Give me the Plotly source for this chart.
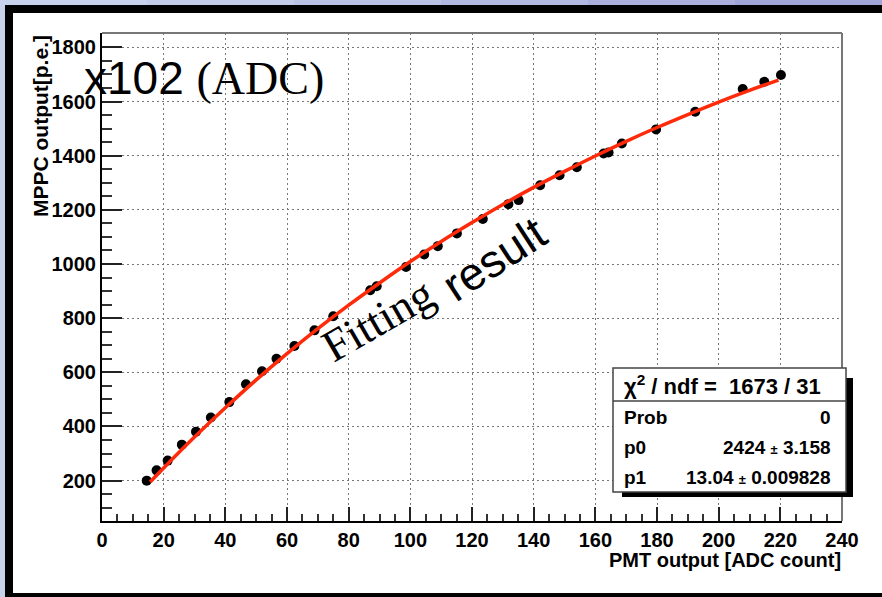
import plotly.graph_objects as go

# ---- data ----
pmt_adc = [14.5, 17.7, 21.3, 25.9, 30.5, 35.3, 41.3, 46.7, 51.9, 56.6, 62.4, 68.9,
           75.0, 87.0, 89.1, 98.6, 104.5, 108.9, 115.1, 123.5, 131.8, 135.1, 142.1,
           148.4, 154.0, 162.7, 164.3, 168.6, 179.7, 192.4, 207.8, 214.8, 220.2]
mppc_pe = [200, 238, 274, 333, 381, 433, 490, 556, 604, 650, 697, 755,
           807, 903, 918, 989, 1035, 1066, 1113, 1166, 1221, 1236, 1291,
           1328, 1357, 1408, 1412, 1445, 1497, 1562, 1646, 1673, 1698]

# fitted curve (red line)
fit_x = [15.6, 20, 30, 40, 50, 60, 70, 80, 90, 100, 110, 120, 130, 140, 150,
         160, 170, 180, 190, 200, 210, 219.4]
fit_y = [195, 247, 361, 469, 572, 669, 761, 848, 930, 1009, 1083, 1153, 1220,
         1283, 1342, 1399, 1453, 1504, 1552, 1598, 1641, 1679]

x_ticks = list(range(0, 241, 20))
y_ticks = list(range(200, 1801, 200))

stats_header = "χ<sup>2</sup> / ndf =  1673 / 31"
stats_rows = [("Prob", "0"),
              ("p0", "2424 <span style='font-size:13px'>±</span> 3.158"),
              ("p1", "13.04 <span style='font-size:13px'>±</span> 0.009828")]

# ---- layout geometry (pixels) ----
W, H = 882, 597
L, R, T, B = 102, 40, 33, 76
PW, PH = W - L - R, H - T - B


def PX(x):
    return (x - L) / PW


def PY(y):
    return (H - B - y) / PH


fig = go.Figure()
fig.add_trace(go.Scatter(x=pmt_adc, y=mppc_pe, mode="markers",
                         marker=dict(color="black", size=10), showlegend=False))
fig.add_trace(go.Scatter(x=fit_x, y=fit_y, mode="lines",
                         line=dict(color="#ff2a0a", width=3.5, shape="spline"),
                         showlegend=False))

shapes = []
# black frame and white panel
shapes.append(dict(type="rect", xref="paper", yref="paper", layer="below",
                   x0=PX(5), x1=PX(W + 5), y0=PY(5), y1=PY(H + 5),
                   fillcolor="black", line=dict(width=0)))
shapes.append(dict(type="rect", xref="paper", yref="paper", layer="below",
                   x0=PX(13), x1=PX(W + 5), y0=PY(13), y1=PY(593),
                   fillcolor="white", line=dict(width=0)))
# top lavender strip gradient
top_cols = ["#c9d2ec", "#c2cbe9", "#bac2e5", "#b1b8e1", "#a9aedc", "#a0a5d8"]
seg = W / len(top_cols)
for i, c in enumerate(top_cols):
    shapes.append(dict(type="rect", xref="paper", yref="paper", layer="below",
                       x0=PX(i * seg), x1=PX((i + 1) * seg + 1), y0=PY(-2), y1=PY(5),
                       fillcolor=c, line=dict(width=0)))
# top / right frame of plot box
shapes.append(dict(type="line", xref="paper", yref="paper", x0=0, x1=1, y0=1, y1=1,
                   line=dict(color="#777", width=2)))
shapes.append(dict(type="line", xref="paper", yref="paper", x0=1, x1=1, y0=0, y1=1,
                   line=dict(color="#777", width=2)))
# stats box
shapes.append(dict(type="rect", xref="paper", yref="paper",
                   x0=PX(622), x1=PX(853), y0=PY(378), y1=PY(497),
                   fillcolor="black", line=dict(width=0)))
shapes.append(dict(type="rect", xref="paper", yref="paper",
                   x0=PX(613), x1=PX(846), y0=PY(368), y1=PY(492),
                   fillcolor="white", line=dict(color="#444", width=1.5)))
shapes.append(dict(type="line", xref="paper", yref="paper",
                   x0=PX(613), x1=PX(846), y0=PY(401), y1=PY(401),
                   line=dict(color="#444", width=1.5)))

ann = []
sans = "Liberation Sans"
serif = "Liberation Serif"
ann.append(dict(xref="paper", yref="paper", x=PX(722), y=PY(385), showarrow=False,
                xanchor="center", yanchor="middle", text=stats_header,
                font=dict(family=sans, size=22, color="black", weight="bold")))
row_y = [417, 447, 477]
for (lab, val), ry in zip(stats_rows, row_y):
    ann.append(dict(xref="paper", yref="paper", x=PX(622), y=PY(ry), showarrow=False,
                    xanchor="left", yanchor="middle", text=lab,
                    font=dict(family=sans, size=19, color="black", weight="bold")))
    ann.append(dict(xref="paper", yref="paper", x=PX(833), y=PY(ry), showarrow=False,
                    xanchor="right", yanchor="middle", text=val,
                    font=dict(family=sans, size=19, color="black", weight="bold")))
# axis titles
ann.append(dict(xref="paper", yref="paper", x=PX(843), y=PY(560), showarrow=False,
                xanchor="right", yanchor="middle", text="PMT output [ADC count]",
                font=dict(family=sans, size=20, color="black", weight="bold")))
ann.append(dict(xref="paper", yref="paper", x=PX(40), y=PY(33), showarrow=False,
                xanchor="center", yanchor="top", textangle=-90, text="MPPC output[p.e.]",
                font=dict(family=sans, size=21, color="black", weight="bold")))
# free texts
ann.append(dict(xref="paper", yref="paper", x=PX(82), y=PY(78), showarrow=False,
                xanchor="left", yanchor="middle",
                text="x102 <span style='font-family:Liberation Serif'>(ADC)</span>",
                font=dict(family=sans, size=46, color="black")))
ann.append(dict(xref="paper", yref="paper", x=PX(378), y=PY(320), showarrow=False,
                xanchor="center", yanchor="middle", textangle=-30, text="Fitting",
                font=dict(family=serif, size=45, color="black")))
ann.append(dict(xref="paper", yref="paper", x=PX(494), y=PY(259), showarrow=False,
                xanchor="center", yanchor="middle", textangle=-33, text="result",
                font=dict(family="Liberation Sans, Arial, sans-serif", size=46,
                          color="black")))

tickfont = dict(family=sans, size=20, color="black", weight="bold")
fig.update_layout(
    width=W, height=H, margin=dict(l=L, r=R, t=T, b=B),
    paper_bgcolor="#c7d1ea", plot_bgcolor="rgba(0,0,0,0)",
    shapes=shapes, annotations=ann, showlegend=False,
    xaxis=dict(range=[0, 240], tickvals=x_ticks, ticktext=[str(v) for v in x_ticks],
               ticks="inside", ticklen=14, tickwidth=2, tickcolor="#222",
               showline=True, linecolor="black", linewidth=2, mirror=False,
               showgrid=True, gridcolor="#777", gridwidth=1, griddash="2px,3px",
               zeroline=False, tickfont=tickfont,
               minor=dict(dtick=5, tick0=0, ticks="inside", ticklen=7, tickwidth=2,
                          tickcolor="#333", showgrid=False)),
    yaxis=dict(range=[51, 1853], tickvals=y_ticks, ticktext=[str(v) for v in y_ticks],
               ticks="inside", ticklen=20, tickwidth=2, tickcolor="#222",
               showline=True, linecolor="black", linewidth=2, mirror=False,
               showgrid=True, gridcolor="#777", gridwidth=1, griddash="2px,3px",
               zeroline=False, tickfont=tickfont,
               minor=dict(dtick=50, tick0=0, ticks="inside", ticklen=10, tickwidth=2,
                          tickcolor="#333", showgrid=False)),
)

fig.write_html("out.html")
